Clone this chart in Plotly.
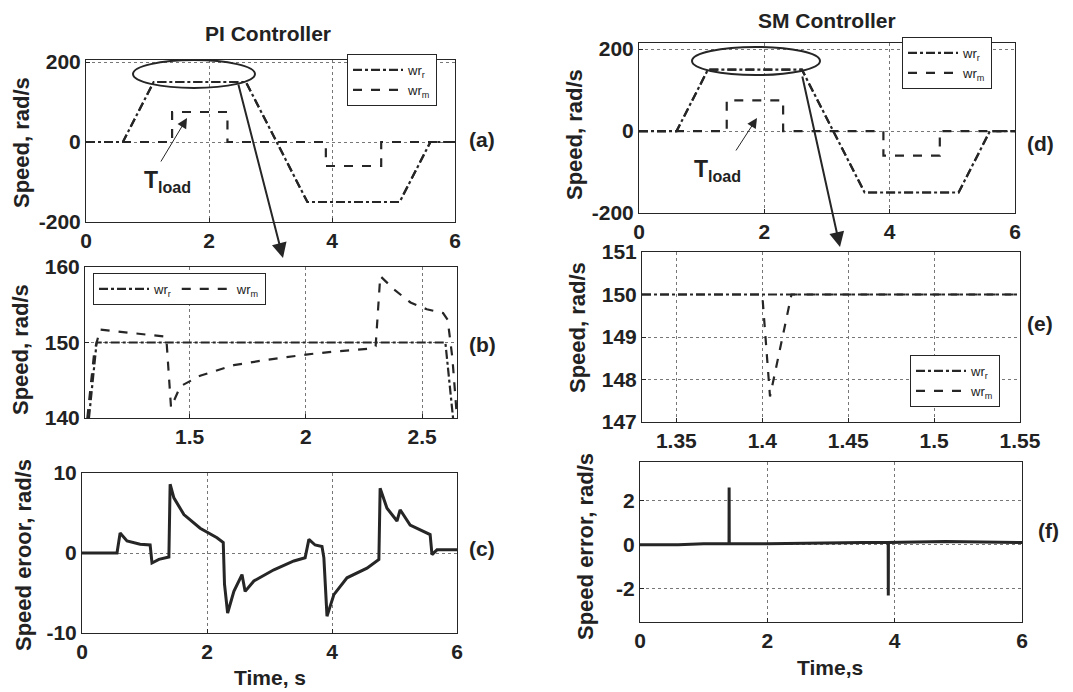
import plotly.graph_objects as go

W, H = 1073, 692

# speed reference profile, same for both controllers (a), (d)
t_profile = [0, 0.6, 1.1, 2.6, 3.6, 5.1, 5.6, 6.0]
wr_ref = [0, 0, 150, 150, -150, -150, 0, 0]
wr_meas = [0, 0, 150, 150, -150, -150, 0, 0]

# load torque steps
t_load = [0, 1.4, 1.4, 2.3, 2.3, 3.9, 3.9, 4.8, 4.8, 6.0]
load_val = [0, 0, 75, 75, 0, 0, -60, -60, 0, 0]

# (b) PI zoom
t_b_ref = [1.067, 1.1, 2.6, 2.633]
wr_b_ref = [140, 150, 150, 140]
t_b_meas = [1.06, 1.09, 1.115, 1.26, 1.39, 1.40, 1.42, 1.46, 1.545, 1.69, 1.83, 2.0,
            2.12, 2.28, 2.30, 2.32, 2.38, 2.45, 2.52, 2.59, 2.61, 2.63, 2.645, 2.65]
wr_b_meas = [140, 148.8, 151.7, 151.2, 150.8, 150.5, 141.4, 144.2, 145.6, 147.0, 147.7, 148.4,
             148.8, 149.2, 149.5, 158.8, 157.0, 155.3, 154.4, 153.9, 153.0, 148.0, 141.4, 140]

# (c) PI speed error
t_c = [0, 0.56, 0.61, 0.72, 0.93, 1.09, 1.12, 1.23, 1.39, 1.41, 1.47, 1.63, 1.89, 2.16,
       2.26, 2.28, 2.33, 2.43, 2.56, 2.61, 2.75, 3.07, 3.39, 3.57, 3.63, 3.73, 3.84, 3.87,
       3.92, 4.03, 4.24, 4.56, 4.75, 4.77, 4.88, 5.04, 5.09, 5.25, 5.57, 5.6, 5.68, 6.0]
err_c = [0, 0, 2.5, 1.5, 1.1, 1.0, -1.25, -0.8, -0.5, 8.6, 6.9, 4.8, 3.1, 1.9,
         1.3, -3.9, -7.5, -4.8, -2.7, -4.8, -3.5, -2.1, -1.0, -0.6, 1.7, 1.0, 0.8, -0.6,
         -7.9, -5.2, -3.1, -1.9, -0.8, 8.1, 5.6, 4.0, 5.4, 3.5, 2.3, -0.2, 0.4, 0.4]

# (e) SM zoom
t_e_ref = [1.33, 1.55]
wr_e_ref = [150, 150]
t_e_meas = [1.33, 1.40, 1.4045, 1.417, 1.55]
wr_e_meas = [150, 150, 147.6, 150, 150]

# (f) SM speed error
t_f = [0, 0.6, 1.0, 1.398, 1.40, 1.402, 2.0, 2.9, 3.5, 3.898, 3.90, 3.902, 4.8, 6.0]
err_f = [0, 0, 0.05, 0.05, 2.6, 0.05, 0.05, 0.1, 0.1, 0.1, -2.3, 0.1, 0.15, 0.1]

# tick values
ticks_t = [0, 2, 4, 6]
ticks_speed = [-200, 0, 200]
ticks_b_x = [1.5, 2, 2.5]
ticks_b_y = [140, 150, 160]
ticks_err_pi = [-10, 0, 10]
ticks_e_x = [1.35, 1.4, 1.45, 1.5, 1.55]
ticks_e_y = [147, 148, 149, 150, 151]
ticks_err_sm = [-2, 0, 2]

INK = "#262626"
FONT = "Liberation Sans"
OFF = 8  # page body margin


def px(x):
    return (x - OFF) / W


def py(y):
    return 1 - (y - OFF) / H


fig = go.Figure()


def add(x, y, ax, dash, width=2.2, name=None, legend=None):
    fig.add_trace(go.Scatter(x=x, y=y, mode="lines", xaxis="x" + ax, yaxis="y" + ax,
                             line=dict(color=INK, width=width, dash=dash),
                             name=name, showlegend=legend is not None,
                             legend=legend if legend else "legend"))


# (a)
add(t_profile, wr_ref, "", "dashdot", name="wr<sub>r</sub>", legend="legend")
add(t_profile, wr_meas, "", "dash", name="wr<sub>m</sub>", legend="legend")
add(t_load, load_val, "", "dash")
# (b)
add(t_b_ref, wr_b_ref, "2", "dashdot", name="wr<sub>r</sub>", legend="legend2")
add(t_b_meas, wr_b_meas, "2", "dash", name="wr<sub>m</sub>", legend="legend2")
# (c)
add(t_c, err_c, "3", "solid", width=3)
# (d)
add(t_profile, wr_ref, "4", "dashdot", name="wr<sub>r</sub>", legend="legend3")
add(t_profile, wr_meas, "4", "dash", name="wr<sub>m</sub>", legend="legend3")
add(t_load, load_val, "4", "dash")
# (e)
add(t_e_ref, wr_e_ref, "5", "dashdot", name="wr<sub>r</sub>", legend="legend4")
add(t_e_meas, wr_e_meas, "5", "dash", name="wr<sub>m</sub>", legend="legend4")
# (f)
add(t_f, err_f, "6", "solid", width=3)

tickfont = dict(family=FONT, size=21, color="#222", weight="bold")


def axis(x0, x1, rng, tickvals, anchor):
    return dict(domain=[px(x0), px(x1)], range=rng, tickvals=tickvals,
                ticktext=[f"{v:g}".replace("\u2212", "-") for v in tickvals], anchor=anchor,
                automargin=False,
                showline=True, linecolor=INK, linewidth=1, mirror=True,
                ticks="inside", ticklen=4, tickcolor=INK,
                showgrid=True, gridcolor="#777", griddash="dot", gridwidth=1,
                zeroline=False, tickfont=tickfont)


def yaxis(y0, y1, rng, tickvals, anchor):
    return axis(OFF, OFF, rng, tickvals, anchor) | dict(domain=[py(y1), py(y0)])


fig.update_layout(
    xaxis=axis(86, 455, [0, 6], ticks_t, "y"),
    yaxis=yaxis(60, 222, [-200, 205], ticks_speed, "x"),
    xaxis2=axis(85, 457, [1.05, 2.65], ticks_b_x, "y2"),
    yaxis2=yaxis(267, 418, [140, 160], ticks_b_y, "x2"),
    xaxis3=axis(82, 457, [0, 6], ticks_t, "y3"),
    yaxis3=yaxis(473, 633, [-10, 10], ticks_err_pi, "x3"),
    xaxis4=axis(639, 1015, [0, 6], ticks_t, "y4"),
    yaxis4=yaxis(43, 213, [-200, 215], ticks_speed, "x4"),
    xaxis5=axis(642, 1020, [1.33, 1.55], ticks_e_x, "y5"),
    yaxis5=yaxis(252, 422, [147, 151], ticks_e_y, "x5"),
    xaxis6=axis(640, 1022, [0, 6], ticks_t, "y6"),
    yaxis6=yaxis(462, 622, [-3.5, 3.75], ticks_err_sm, "x6"),
)

leg = dict(bgcolor="white", bordercolor=INK, borderwidth=1, xanchor="left", yanchor="top",
           font=dict(family=FONT, size=13, color="#222"), itemwidth=50, tracegroupgap=0)
fig.update_layout(
    legend=leg | dict(x=px(347), y=py(54)),
    legend2=leg | dict(x=px(93), y=py(273), orientation="h"),
    legend3=leg | dict(x=px(902), y=py(37)),
    legend4=leg | dict(x=px(910), y=py(355)),
)

ann = []


def text(x, y, s, size=21, angle=0):
    ann.append(dict(x=px(x), y=py(y), xref="paper", yref="paper", text=s, showarrow=False,
                    xanchor="center", yanchor="middle", textangle=angle,
                    font=dict(family=FONT, size=size, color="#222", weight="bold")))


text(268, 33, "PI Controller")
text(827, 20, "SM Controller")
text(482, 140, "(a)")
text(482, 345, "(b)")
text(482, 548, "(c)")
text(1040, 143, "(d)")
text(1040, 323, "(e)")
text(1048, 530, "(f)")
text(21, 143, "Speed, rad/s", 22, -90)
text(21, 350, "Speed, rad/s", 22, -90)
text(23, 555, "Speed eroor, rad/s", 22, -90)
text(575, 135, "Speed, rad/s", 22, -90)
text(577, 328, "Speed, rad/s", 22, -90)
text(585, 547, "Speed error, rad/s", 22, -90)
text(270, 677, "Time, s", 21)
text(830, 667, "Time,s", 21)
text(167, 182, "T<sub>load</sub>", 23)
text(717, 170, "T<sub>load</sub>", 23)


def arrow(x0, y0, x1, y1, width=2, size=1.2):
    ann.append(dict(x=px(x1), y=py(y1), xref="paper", yref="paper", ax=x0 - x1, ay=y0 - y1,
                    text="", showarrow=True, arrowhead=2, arrowsize=size, arrowwidth=width,
                    arrowcolor=INK))


arrow(238, 83, 283, 258, 2, 1.5)
arrow(802, 75, 840, 247, 2, 1.5)
arrow(160, 163, 187, 118, 1, 2)
arrow(735, 152, 757, 118, 1, 2)

fig.update_layout(annotations=ann)

fig.add_shape(type="circle", xref="paper", yref="paper", x0=px(133), x1=px(255),
              y0=py(88), y1=py(60), line=dict(color=INK, width=2))
fig.add_shape(type="circle", xref="paper", yref="paper", x0=px(692), x1=px(820),
              y0=py(75), y1=py(47), line=dict(color=INK, width=2))

fig.update_layout(width=W, height=H, margin=dict(l=0, r=0, t=0, b=0),
                  paper_bgcolor="white", plot_bgcolor="white", showlegend=True)

fig.write_html("out.html")
